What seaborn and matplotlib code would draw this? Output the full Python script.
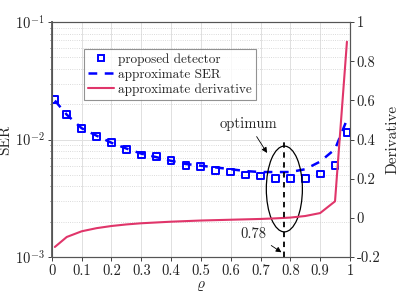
import matplotlib
matplotlib.use("Agg")
import matplotlib.pyplot as plt
import seaborn as sns
from matplotlib.patches import Ellipse
from matplotlib.lines import Line2D

# Data
rho = [0.01, 0.05, 0.1, 0.15, 0.2, 0.25, 0.3, 0.35, 0.4, 0.45, 0.5,
       0.55, 0.6, 0.65, 0.7, 0.75, 0.8, 0.85, 0.9, 0.95, 0.99]
ser_sim = [0.0220, 0.0164, 0.0124, 0.0106, 0.0094, 0.0082, 0.0074, 0.0072, 0.0066, 0.0060, 0.0059,
           0.0055, 0.0053, 0.0050, 0.0049, 0.00465, 0.0047, 0.0047, 0.0051, 0.0060, 0.0115]
ser_approx = [0.0215, 0.0163, 0.0125, 0.0108, 0.0094, 0.0084, 0.0076, 0.0071, 0.0066, 0.0062, 0.0060,
              0.0058, 0.0056, 0.0054, 0.0053, 0.0053, 0.0053, 0.0056, 0.0065, 0.0083, 0.0148]
deriv = [-0.148, -0.097, -0.068, -0.052, -0.041, -0.033, -0.027, -0.023, -0.019, -0.016, -0.013,
         -0.011, -0.009, -0.007, -0.005, -0.002, 0.002, 0.010, 0.025, 0.085, 0.90]
rho_opt = 0.78

sns.set_theme(style="ticks")
plt.rcParams['font.family'] = ['cmr10', 'DejaVu Serif']
plt.rcParams['mathtext.fontset'] = 'cm'
plt.rcParams['axes.unicode_minus'] = False
plt.rcParams['axes.formatter.use_mathtext'] = True

red = '#E0356A'
fig = plt.figure(figsize=(3.99, 2.99), dpi=100)
ax = fig.add_axes([0.130, 0.140, 0.747, 0.786])
ax2 = ax.twinx()

sns.lineplot(x=rho, y=ser_approx, ax=ax, color='blue', lw=1.8, linestyle=(0, (3.5, 3)))
sns.scatterplot(x=rho, y=ser_sim, ax=ax, marker='s', s=24, facecolor='none',
                edgecolor='blue', linewidth=1.4, zorder=5)
sns.lineplot(x=rho, y=deriv, ax=ax2, color=red, lw=1.5)

ax.set_yscale('log')
ax.set_xlim(0, 1)
ax.set_ylim(1e-3, 1e-1)
ax2.set_ylim(-0.2, 1)
ax.set_xticks([i / 10 for i in range(11)])
ax.set_xticklabels(['0', '0.1', '0.2', '0.3', '0.4', '0.5', '0.6', '0.7', '0.8', '0.9', '1'])
ax2.set_yticks([-0.2, 0, 0.2, 0.4, 0.6, 0.8, 1])
ax2.set_yticklabels(['-0.2', '0', '0.2', '0.4', '0.6', '0.8', '1'])

ax.grid(True, which='major', axis='both', color='#e0e0e0', lw=0.7, ls='-')
ax.grid(True, which='minor', axis='y', color='#cfcfcf', lw=0.6, ls=':')
ax.set_axisbelow(True)

for a in (ax, ax2):
    for s in a.spines.values():
        s.set_color('#555555')
        s.set_linewidth(0.8)
    a.tick_params(labelsize=10.5, direction='out', length=3, width=0.6, colors='#222222', pad=2)
ax.spines['left'].set_linewidth(1.4)
ax.spines['left'].set_color('#666666')
ax.tick_params(which='minor', length=1.5, width=0.5)

ax.set_xlabel(r'$\varrho$', fontsize=11, labelpad=1)
ax.set_ylabel('SER', fontsize=11, labelpad=2)
ax2.set_ylabel('Derivative', fontsize=11, labelpad=4)

# optimum markers
ax2.plot([rho_opt, rho_opt], [-0.2, 0.40], color='black', lw=1.3, ls=(0, (3, 2.5)))
ax2.add_patch(Ellipse((rho_opt, 0.148), 0.121, 0.438, fill=False, color='black', lw=0.9))
ax2.annotate('optimum', xy=(0.727, 0.32), xytext=(0.66, 0.48), fontsize=10.5,
             ha='center', va='center',
             arrowprops=dict(arrowstyle='-|>', color='black', lw=0.6, mutation_scale=8))
ax2.annotate('0.78', xy=(0.778, -0.183), xytext=(0.677, -0.081), fontsize=10.5,
             ha='center', va='center',
             arrowprops=dict(arrowstyle='-|>', color='black', lw=0.6, mutation_scale=8))

handles = [
    Line2D([], [], marker='s', ls='none', mfc='none', mec='blue', mew=1.4, ms=5),
    Line2D([], [], color='blue', lw=1.8, ls=(0, (3.5, 3))),
    Line2D([], [], color=red, lw=1.5),
]
labels = ['proposed detector', 'approximate SER', 'approximate derivative']
leg = ax2.legend(handles, labels, loc='upper left', bbox_to_anchor=(0.107, 0.885),
                 fontsize=9.5, frameon=True, fancybox=False, edgecolor='#777777',
                 borderpad=0.3, labelspacing=0.2, handlelength=2.0, handletextpad=0.3,
                 borderaxespad=0)
leg.get_frame().set_linewidth(0.8)

fig.savefig('out.png', dpi=100)
